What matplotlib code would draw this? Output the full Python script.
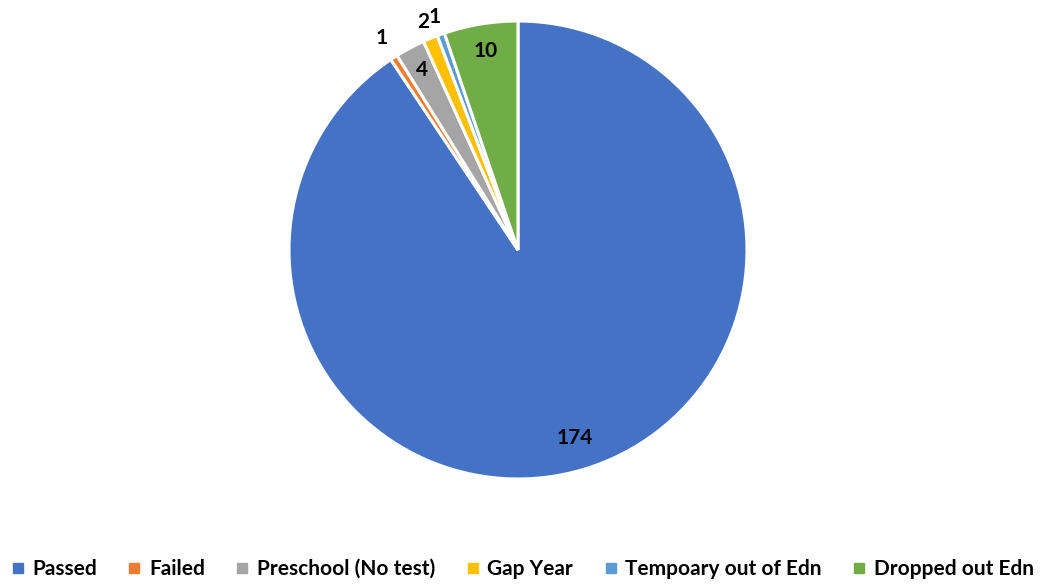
import numpy as np
import matplotlib.pyplot as plt
from matplotlib.lines import Line2D

categories = ["Passed", "Failed", "Preschool (No test)", "Gap Year",
              "Tempoary out of Edn", "Dropped out Edn"]
values = [174, 1, 4, 2, 1, 10]
colors = ["#4472C4", "#ED7D31", "#A5A5A5", "#FFC000", "#5B9BD5", "#70AD47"]
label_dist = [0.86, 1.10, 0.89, 1.08, 1.08, 0.88]

plt.rcParams['font.family'] = ['Lato', 'DejaVu Sans']

W, H = 1045, 585
fig = plt.figure(figsize=(W / 100, H / 100), dpi=100)
cx, cy, r = 518, 250, 229
ax = fig.add_axes([(cx - r) / W, (H - cy - r) / H, 2 * r / W, 2 * r / H])

wedges, _ = ax.pie(values, colors=colors, startangle=90, counterclock=False,
                   radius=1, wedgeprops=dict(edgecolor="white", linewidth=2.2))
ax.set_xlim(-1, 1)
ax.set_ylim(-1, 1)
ax.set_aspect("equal")

for w, v, d in zip(wedges, values, label_dist):
    mid = np.deg2rad((w.theta1 + w.theta2) / 2)
    ax.text(d * np.cos(mid), d * np.sin(mid), str(v), ha="center", va="center",
            fontsize=15, fontweight="bold", color="black", clip_on=False)

handles = [Line2D([], [], marker="s", linestyle="none", markersize=7,
                  markerfacecolor=c, markeredgecolor=c) for c in colors]
fig.legend(handles, categories, loc="center", bbox_to_anchor=(0.5, 1 - 569 / H),
           ncol=6, frameon=False, handlelength=0.6, handletextpad=0.4,
           columnspacing=1.5, prop=dict(size=15, weight="bold"))

fig.savefig("out.png", dpi=100)
